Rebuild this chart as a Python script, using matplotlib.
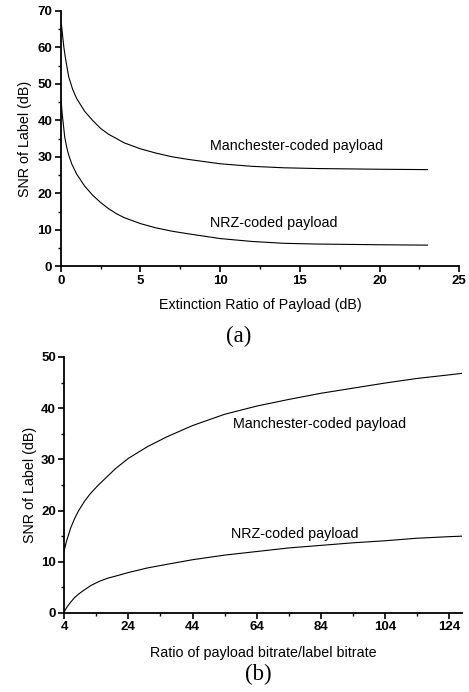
import matplotlib

matplotlib.use("Agg")
import matplotlib.pyplot as plt
from matplotlib.ticker import MultipleLocator, FixedLocator

# (a) SNR of label vs extinction ratio of payload
er_manch = [0.05, 0.1, 0.2, 0.3, 0.5, 0.75, 1.0, 1.5, 2.0, 2.5, 3.0, 3.5, 4.0,
            5.0, 6.0, 7.0, 8.0, 10.0, 12.0, 14.0, 16.0, 18.0, 20.0, 23.0]
snr_manch_a = [66.2, 64.0, 60.0, 57.0, 52.0, 48.5, 46.0, 42.5, 40.0, 37.8, 36.2,
               35.0, 33.8, 32.2, 31.0, 30.0, 29.3, 28.1, 27.4, 27.0, 26.8, 26.7,
               26.6, 26.5]
er_nrz = [0.03, 0.1, 0.16, 0.25, 0.37, 0.5, 0.7, 1.0, 1.5, 2.0, 2.5, 3.0, 3.5,
          4.0, 5.0, 6.0, 7.0, 8.0, 10.0, 12.0, 14.0, 16.0, 18.0, 20.0, 23.0]
snr_nrz_a = [45.2, 41.5, 39.2, 35.5, 32.8, 30.5, 28.0, 25.3, 22.0, 19.5, 17.5,
             15.8, 14.4, 13.3, 11.7, 10.5, 9.6, 8.9, 7.6, 6.8, 6.3, 6.1, 6.0,
             5.9, 5.8]

# (b) SNR of label vs payload/label bitrate ratio
rate_manch = [4, 4.3, 4.7, 5.2, 6, 7.2, 8.5, 10.3, 12, 14.5, 17, 20, 24, 30, 36,
              44, 54, 64, 74, 84, 94, 104, 114, 124, 128]
snr_manch_b = [12.2, 13.0, 14.0, 15.0, 16.6, 18.4, 20.0, 21.8, 23.2, 24.9, 26.4,
               28.2, 30.2, 32.5, 34.4, 36.6, 38.8, 40.4, 41.7, 42.9, 43.9, 44.9,
               45.8, 46.5, 46.8]
rate_nrz = [4, 4.5, 5, 6, 7.2, 8.5, 10, 12.4, 15, 17.6, 20, 24, 30, 36, 44, 54,
            64, 74, 84, 94, 104, 114, 124, 128]
snr_nrz_b = [0.2, 0.8, 1.3, 2.1, 3.0, 3.7, 4.4, 5.4, 6.2, 6.8, 7.2, 7.9, 8.8,
             9.5, 10.4, 11.3, 12.0, 12.7, 13.2, 13.7, 14.1, 14.6, 14.9, 15.0]

SANS = "Liberation Sans"
SERIF = "Liberation Serif"
TXT = 10.3


def style_axes(ax):
    for side in ("top", "right"):
        ax.spines[side].set_visible(False)
    for side in ("left", "bottom"):
        ax.spines[side].set_linewidth(1.3)
    ax.tick_params(which="major", direction="out", length=4, width=1.2,
                   labelsize=9.5, pad=2)
    ax.tick_params(which="minor", direction="out", length=2.5, width=1.0)
    for lab in ax.get_xticklabels() + ax.get_yticklabels():
        lab.set_fontfamily(SANS)
        lab.set_fontweight("bold")


fig = plt.figure(figsize=(4.69, 6.92), dpi=100)

ax1 = fig.add_axes([0.1294, 0.6152, 0.850, 0.369])
ax1.plot(er_manch, snr_manch_a, color="black", linewidth=0.8)
ax1.plot(er_nrz, snr_nrz_a, color="black", linewidth=0.8)
ax1.set_xlim(0, 25)
ax1.set_ylim(0, 70)
ax1.xaxis.set_major_locator(MultipleLocator(5))
ax1.xaxis.set_minor_locator(MultipleLocator(2.5))
ax1.yaxis.set_major_locator(MultipleLocator(10))
ax1.yaxis.set_minor_locator(MultipleLocator(5))
style_axes(ax1)
ax1.set_xlabel("Extinction Ratio of Payload (dB)", fontfamily=SANS,
               fontsize=TXT, labelpad=8)
ax1.set_ylabel("SNR of Label (dB)", fontfamily=SANS, fontsize=TXT, labelpad=4)
ax1.text(9.37, 33.1, "Manchester-coded payload", fontfamily=SANS,
         fontsize=TXT, va="center")
ax1.text(9.37, 12.0, "NRZ-coded payload", fontfamily=SANS,
         fontsize=TXT, va="center")
fig.text(0.508, 1 - 336 / 692, "(a)", fontfamily=SERIF, fontsize=16.5,
         ha="center", va="center")

ax2 = fig.add_axes([0.137, 0.1142, 0.848, 0.370])
ax2.plot(rate_manch, snr_manch_b, color="black", linewidth=0.8)
ax2.plot(rate_nrz, snr_nrz_b, color="black", linewidth=0.8)
ax2.set_xlim(4, 128)
ax2.set_ylim(0, 50)
ax2.xaxis.set_major_locator(FixedLocator([4, 24, 44, 64, 84, 104, 124]))
ax2.xaxis.set_minor_locator(FixedLocator([14, 34, 54, 74, 94, 114]))
ax2.yaxis.set_major_locator(MultipleLocator(10))
ax2.yaxis.set_minor_locator(MultipleLocator(5))
style_axes(ax2)
ax2.set_xlabel("Ratio of payload bitrate/label bitrate", fontfamily=SANS,
               fontsize=TXT, labelpad=9)
ax2.set_ylabel("SNR of Label (dB)", fontfamily=SANS, fontsize=TXT, labelpad=3)
ax2.text(56.6, 37.0, "Manchester-coded payload", fontfamily=SANS,
         fontsize=TXT, va="center")
ax2.text(56.1, 15.5, "NRZ-coded payload", fontfamily=SANS,
         fontsize=TXT, va="center")
fig.text(0.55, 1 - 674 / 692, "(b)", fontfamily=SERIF, fontsize=16.5,
         ha="center", va="center")

fig.savefig("out.png", dpi=100)
